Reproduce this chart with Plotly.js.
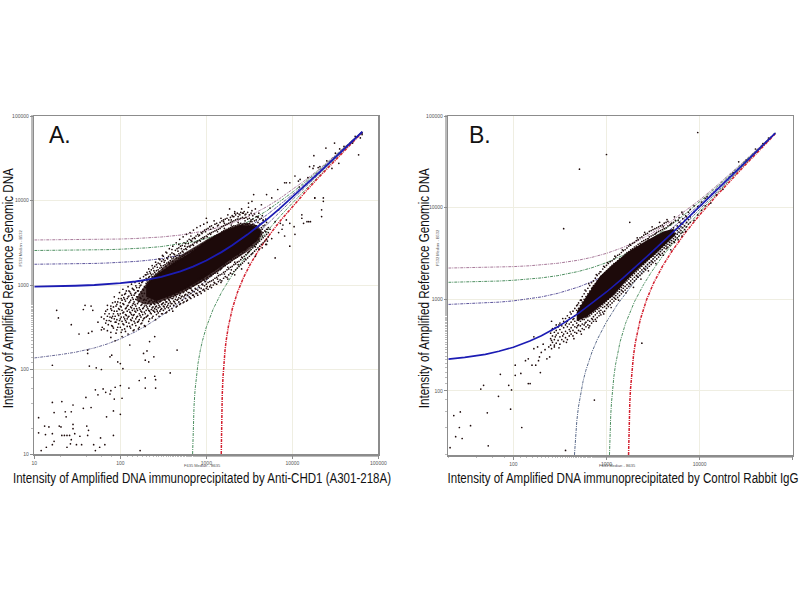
<!DOCTYPE html>
<html>
<head>
<meta charset="utf-8">
<script src="https://cdn.plot.ly/plotly-3.0.1.min.js"></script>
<style>html,body{margin:0;padding:0;background:#fff}</style>
</head>
<body>
<div id="chart" style="width:800px;height:600px"></div>
<script>
// Panel A curves (intensity values)
const aUpperX=[10,15,20,30,50,70,100,150,200,300,500,700,1000,1500,2000,3000,5000,7000,10000,15000,20000,30000,50000,65000];
const aMauve=[3410,3415,3420,3430,3450,3470,3500,3550,3600,3700,3900,4100,4400,4900,5400,6400,8400,10400,13400,18200,23000,32800,52500,65500];
const aGreenUp=[2560,2565,2570,2580,2600,2620,2650,2700,2750,2850,3050,3250,3550,4050,4550,5550,7500,9500,12500,17400,22300,32200,52000,65400];
const aPurpleUp=[1760,1765,1770,1780,1800,1820,1850,1900,1950,2050,2250,2450,2750,3250,3750,4750,6700,8700,11700,16700,21700,31700,51600,65300];
const aBlue=[955,960,970,980,1000,1020,1050,1100,1150,1250,1450,1650,1950,2450,2950,3950,5900,7900,10900,15900,20900,30900,51000,65100];
const aPurpleLow=[137,143,150,160,180,200,230,280,330,430,630,830,1130,1630,2130,3130,5130,7130,10100,15100,20100,30100,50100,65000];
const aGreenLowX=[692,695,700,710,720,740,760,800,850,900,1000,1200,1500,2000,3000,5000,7000,10000,15000,20000,30000,50000,65000];
const aGreenLowY=[10,13,18,28,38,58,78,118,168,218,318,518,818,1318,2318,4320,6320,9320,14320,19320,29320,49300,64800];
const aRedX=[1490,1495,1500,1510,1530,1560,1600,1650,1700,1800,2000,2300,2700,3200,4000,5000,7000,10000,15000,20000,30000,50000,65000];
const aRedY=[10,15,20,30,50,80,120,170,220,320,520,820,1220,1720,2520,3520,5520,8520,13520,18520,28520,48600,64000];
// Panel B curves
const bUpperX=[20,30,50,70,100,150,200,300,500,700,1000,1500,2000,3000,5000,7000,10000,15000,20000,30000,50000,65000];
const bMauve=[2190,2200,2220,2240,2270,2320,2370,2470,2670,2870,3170,3670,4170,5170,7150,9150,12100,17100,22000,32000,51800,65500];
const bGreenUp=[1530,1540,1560,1580,1610,1660,1710,1810,2010,2210,2510,3010,3510,4510,6500,8500,11500,16500,21500,31500,51400,65400];
const bPurpleUp=[878,890,910,930,960,1010,1060,1160,1360,1560,1860,2360,2860,3860,5850,7850,10800,15800,20800,30800,50800,65200];
const bBlue=[222,232,250,270,300,350,400,500,700,900,1200,1700,2200,3200,5200,7200,10200,15200,20200,30200,50200,65000];
const bPurpleLowX=[453,456,460,470,480,500,530,560,600,650,700,800,1000,1300,1700,2200,3000,5000,7000,10000,15000,20000,30000,50000,65000];
const bPurpleLowY=[20,23,27,37,47,67,97,127,167,217,267,367,567,867,1267,1770,2570,4570,6570,9570,14570,19570,29570,49600,64800];
const bGreenLowX=[1077,1080,1085,1095,1110,1130,1160,1200,1250,1300,1400,1600,2000,2500,3000,4000,5000,7000,10000,15000,20000,30000,50000,65000];
const bGreenLowY=[20,23,28,38,53,73,103,143,193,243,343,543,943,1443,1943,2950,3950,5950,8950,13950,18950,28950,48950,64500];
const bRedX=[1726,1730,1735,1745,1760,1780,1810,1850,1900,1950,2050,2300,2700,3200,4000,5000,7000,10000,15000,20000,30000,50000,65000];
const bRedY=[20,24,29,39,54,74,104,144,194,244,344,594,994,1494,2294,3300,5300,8300,13300,18300,28300,48300,64000];
// Saturated parts of each cloud, as outlines in log10(intensity)
const aCore=[[2.30,3.00],[2.42,3.12],[2.62,3.26],[2.81,3.38],[3.00,3.52],[3.20,3.64],[3.39,3.71],[3.55,3.70],[3.64,3.63],[3.59,3.52],[3.43,3.40],[3.28,3.30],[3.12,3.18],[2.97,3.08],[2.77,2.96],[2.58,2.87],[2.42,2.81],[2.30,2.86]];
const aHaze=[[2.22,2.90],[2.34,3.07],[2.58,3.28],[2.81,3.42],[3.04,3.56],[3.28,3.68],[3.47,3.74],[3.60,3.70],[3.66,3.62],[3.60,3.50],[3.47,3.39],[3.28,3.27],[3.08,3.12],[2.89,3.00],[2.66,2.88],[2.42,2.78],[2.28,2.77],[2.18,2.82]];
const bCore=[[2.68,2.86],[2.79,3.04],[2.93,3.25],[3.08,3.39],[3.25,3.53],[3.43,3.64],[3.61,3.74],[3.72,3.77],[3.74,3.70],[3.65,3.61],[3.51,3.48],[3.36,3.35],[3.22,3.21],[3.08,3.05],[2.93,2.92],[2.79,2.81],[2.68,2.76]];
// Individually visible spots in log10(intensity): [x, y]
const aSpots=[[1.08,1.04],[1.14,1.08],[1.21,1.11],[1.23,1.15],[1.05,1.25],[1.12,1.33],[1.17,1.32],[1.13,1.23],[1.21,1.24],[1.29,1.33],[1.31,1.32],[1.32,1.22],[1.35,1.22],[1.38,1.22],[1.41,1.22],[1.43,1.17],[1.38,1.08],[1.42,1.12],[1.49,1.11],[1.55,1.11],[1.47,1.24],[1.45,1.30],[1.45,1.35],[1.53,1.21],[1.61,1.33],[1.63,1.28],[1.62,1.22],[1.69,1.11],[1.71,1.04],[1.76,1.08],[1.82,1.11],[1.77,1.19],[1.92,1.22],[1.84,1.44],[1.92,1.51],[2.00,1.47],[1.66,1.55],[1.57,1.54],[1.45,1.58],[1.43,1.50],[1.36,1.50],[1.37,1.44],[1.23,1.49],[1.21,1.61],[1.05,1.43],[1.32,1.62],[1.60,1.67],[1.71,1.76],[1.74,1.70],[1.80,1.77],[1.83,1.73],[1.88,1.71],[1.89,1.75],[1.94,1.79],[2.00,1.81],[2.10,1.78],[1.93,1.65],[2.02,1.66],[2.29,1.90],[2.22,1.87],[2.29,1.78],[2.41,1.78],[2.40,1.92],[2.41,1.88],[2.03,2.01],[1.97,2.09],[2.00,2.07],[1.90,2.17],[1.88,2.15],[2.29,2.11],[2.33,2.09],[2.27,2.19],[2.31,2.22],[2.39,2.15],[2.11,2.29],[2.02,2.39],[1.89,2.38],[1.94,2.34],[2.34,2.33],[2.40,2.39],[1.21,2.05],[1.64,2.04],[1.72,2.02],[1.78,2.00],[1.62,2.19],[1.62,2.23],[1.52,2.42],[1.63,2.43],[1.67,2.45],[1.78,2.47],[1.26,2.70],[1.28,2.61],[1.43,2.53],[1.59,2.76],[1.57,2.71],[1.66,2.75],[1.68,2.70],[2.23,1.04],[2.66,2.23],[2.58,1.96],
[1.74,2.56],[1.78,2.62],[1.79,2.50],[1.82,2.66],[1.84,2.58],[1.85,2.71],[1.86,2.53],[1.88,2.62],[1.89,2.75],
[3.00,3.79],[3.20,3.77],[3.27,3.90],[3.31,3.81],[3.39,3.83],[3.49,3.97],[3.53,3.99],[3.55,4.07],[3.64,3.95],[3.70,4.07],[3.76,4.03],[3.83,4.13],[3.91,4.21],[3.97,4.21],[4.07,4.23],[4.26,4.03],[3.74,3.91],[3.84,3.89],[3.80,3.75],[3.89,3.71],[3.97,3.73],[4.02,3.69],[4.11,3.79],[4.17,3.75],[4.21,3.75],[4.13,3.73],[4.03,3.60],[3.97,3.46],[3.80,3.32],[3.76,3.55],[3.70,3.48],[3.84,3.62],[3.88,3.66],[3.91,3.58],[3.74,3.66],[3.86,3.73],[3.93,3.77],[3.66,3.77],[3.60,3.81],[3.51,3.75],[3.43,3.85],[3.33,3.85],
[4.49,4.68],[4.39,4.62],[4.25,4.53],[4.20,4.40],[4.25,4.41],[4.55,4.61],[4.54,4.44],[4.46,4.38],[4.77,4.54],[4.81,4.78],[4.26,4.03],[4.36,4.03],[4.36,3.99],[4.34,3.89],[4.34,3.81],[4.19,3.75],[4.11,3.83],[4.03,4.29],[3.93,4.21],[4.24,4.38],[4.32,4.40],[4.09,4.25],[4.70,4.68],[4.79,4.74],[4.81,4.80],[4.73,4.76],[4.60,4.64],[4.50,4.56],[4.40,4.47],[4.30,4.39],[4.18,4.27],[4.08,4.16]];
// Cloud fringe by column: [log10 x, log10 y, log10 y, ...]
const aFringe=[[1.90,2.52,2.61,2.70],[1.92,2.49,2.66,2.74],[1.94,2.56,2.63,2.80],[1.96,2.47,2.59,2.69,2.77],[1.98,2.54,2.64,2.72,2.84],[2.00,2.50,2.60,2.66,2.75,2.79],[2.02,2.47,2.57,2.70,2.82,2.88],[2.04,2.53,2.62,2.68,2.77,2.85],[2.06,2.45,2.58,2.65,2.72,2.81,2.90],[2.08,2.51,2.60,2.69,2.75,2.84],[2.10,2.55,2.63,2.71,2.79,2.87,2.93],[2.12,2.49,2.59,2.67,2.74,2.82,2.90],[2.14,2.53,2.61,2.70,2.76,2.85,2.96],[2.16,2.47,2.57,2.65,2.72,2.80,2.88,2.94],[2.18,2.52,2.60,2.68,2.75,2.83,2.91,2.99],[2.20,2.56,2.63,2.70,2.78,2.86,2.93],[2.22,2.50,2.59,2.66,2.73,2.81,2.89,2.97,3.02],[2.24,2.54,2.62,2.69,2.76,2.84,2.92,3.00],[2.26,2.58,2.65,2.72,2.79,2.87,2.95,3.04],[2.28,2.52,2.61,2.68,2.75,2.83,2.90,2.98,3.06],[2.30,2.62,2.70,2.76,2.82,3.02,3.08,3.12],[2.32,2.64,2.72,2.78,2.84,3.03,3.07,3.13],[2.34,2.60,2.69,2.75,2.81,3.05,3.10,3.16],[2.36,2.66,2.71,2.77,2.82,3.06,3.12,3.18],[2.38,2.63,2.70,2.74,2.80,3.08,3.13,3.20],[2.40,2.68,2.72,2.77,2.81,3.10,3.15,3.22],[2.42,2.65,2.71,2.75,2.80,3.11,3.17,3.24],[2.44,2.67,2.73,2.78,3.13,3.18,3.26],[2.46,2.69,2.74,2.80,3.14,3.20,3.25,3.30],[2.48,2.66,2.72,2.77,3.15,3.21,3.28],[2.50,2.70,2.75,2.79,3.17,3.23,3.30,3.34],[2.52,2.72,2.77,2.82,3.18,3.24,3.29],[2.54,2.68,2.74,2.80,3.20,3.26,3.32,3.38],[2.56,2.73,2.78,2.83,3.21,3.27,3.34],[2.58,2.75,2.80,2.85,3.23,3.29,3.36],[2.60,2.72,2.78,2.84,3.25,3.31,3.38,3.42],[2.62,2.76,2.81,2.86,3.26,3.32,3.37],[2.64,2.78,2.83,2.88,3.28,3.34,3.41],[2.66,2.75,2.82,2.89,3.29,3.35,3.43],[2.68,2.80,2.85,2.91,3.31,3.37,3.44,3.48],[2.70,2.78,2.84,2.90,3.32,3.38,3.46],[2.72,2.82,2.87,2.93,3.34,3.40,3.47],[2.74,2.80,2.86,2.92,3.35,3.42,3.50],[2.76,2.84,2.89,2.94,3.37,3.43,3.49],[2.78,2.82,2.88,2.95,3.38,3.45,3.52],[2.80,2.86,2.91,2.97,3.39,3.46,3.54],[2.82,2.84,2.90,2.96,3.40,3.47,3.53,3.58],[2.84,2.88,2.93,2.99,3.41,3.48,3.55],[2.86,2.86,2.92,3.00,3.43,3.50,3.56],[2.88,2.90,2.95,3.01,3.44,3.51,3.58],[2.90,2.88,2.94,3.02,3.45,3.52,3.60],[2.92,2.92,2.97,3.03,3.46,3.53,3.59],[2.94,2.90,2.96,3.04,3.48,3.55,3.62],[2.96,2.94,3.00,3.06,3.49,3.56,3.63],[2.98,2.93,2.99,3.05,3.50,3.57,3.65],[3.00,2.96,3.01,3.07,3.52,3.58,3.66],[3.02,2.95,3.03,3.08,3.53,3.60,3.67],[3.04,2.98,3.04,3.10,3.54,3.61,3.69],[3.06,2.97,3.05,3.11,3.55,3.62,3.70],[3.08,3.00,3.06,3.13,3.56,3.63,3.68],[3.10,3.02,3.08,3.14,3.58,3.64,3.72],[3.12,3.01,3.09,3.16,3.59,3.65,3.73],[3.14,3.04,3.11,3.17,3.60,3.66,3.71],[3.16,3.06,3.12,3.18,3.61,3.67,3.74],[3.18,3.05,3.13,3.20,3.63,3.69,3.76],[3.20,3.08,3.15,3.22,3.64,3.70,3.75],[3.22,3.10,3.16,3.23,3.65,3.71,3.78],[3.24,3.09,3.18,3.25,3.66,3.72,3.79],[3.26,3.12,3.19,3.26,3.67,3.73,3.77],[3.28,3.14,3.21,3.27,3.68,3.74,3.80],[3.30,3.13,3.22,3.29,3.69,3.75,3.82],[3.32,3.16,3.24,3.31,3.70,3.76,3.81],[3.34,3.18,3.25,3.32,3.70,3.77,3.83],[3.36,3.20,3.27,3.33,3.71,3.78,3.85],[3.38,3.22,3.28,3.35,3.72,3.78,3.84],[3.40,3.24,3.30,3.36,3.73,3.79,3.86],[3.42,3.26,3.32,3.38,3.72,3.80,3.85],[3.44,3.28,3.34,3.39,3.73,3.79,3.87],[3.46,3.30,3.36,3.42,3.72,3.80,3.84],[3.48,3.32,3.38,3.44,3.72,3.78,3.86],[3.50,3.34,3.40,3.46,3.73,3.79,3.83],[3.52,3.36,3.42,3.48,3.71,3.77,3.85],[3.54,3.38,3.44,3.50,3.72,3.78,3.82],[3.56,3.40,3.46,3.52,3.71,3.76,3.84],[3.58,3.42,3.48,3.54,3.70,3.77,3.81],[3.60,3.44,3.50,3.56,3.66,3.74,3.80],[3.62,3.46,3.52,3.58,3.65,3.72,3.78],[3.64,3.48,3.54,3.60,3.68,3.73,3.79],[3.66,3.50,3.56,3.62,3.70,3.76],[3.68,3.52,3.58,3.64,3.71],[3.70,3.54,3.60,3.66,3.74],[3.72,3.57,3.62,3.68]];
const aFringe2=[[1.81,2.48,2.60],[1.83,2.55,2.69],[1.85,2.46,2.63,2.76],[1.87,2.58,2.66],[1.89,2.44,2.57,2.72],[1.91,2.51,2.63,2.79],[1.93,2.60,2.69,2.86],[1.95,2.43,2.56,2.75],[1.97,2.50,2.66,2.80],[1.99,2.58,2.71,2.91],[2.01,2.44,2.62,2.74,2.84],[2.03,2.54,2.67,2.78,2.95],[2.05,2.48,2.60,2.83,2.89],[2.07,2.56,2.64,2.73,2.93],[2.09,2.42,2.62,2.76,2.86,2.98],[2.11,2.51,2.68,2.80,2.92],[2.13,2.58,2.65,2.73,2.88,3.01],[2.15,2.46,2.64,2.78,2.83,2.95],[2.17,2.55,2.69,2.77,2.90,3.03],[2.19,2.62,2.72,2.86,2.97],[2.21,2.48,2.57,2.80,2.93,3.05],[2.23,2.64,2.71,2.85,2.99,3.08],[2.25,2.55,2.68,2.77,2.90,3.03],[2.27,2.60,2.73,2.82,2.94,3.10],[2.29,2.51,2.66,2.79,2.97,3.12],[2.31,2.63,2.74,3.05,3.15],[2.33,2.57,2.70,2.80,3.09,3.19],[2.35,2.67,2.77,3.04,3.14],[2.37,2.61,2.73,3.10,3.23],[2.39,2.69,2.78,3.07,3.17],[2.41,2.59,2.74,3.13,3.27],[2.43,2.69,2.79,3.09,3.21],[2.45,2.63,2.76,3.16,3.31],[2.47,2.71,2.81,3.12,3.23],[2.49,2.66,2.78,3.19,3.35],[2.51,2.74,2.83,3.15,3.27],[2.53,2.67,2.80,3.22,3.39],[2.55,2.76,2.85,3.18,3.31],[2.57,2.70,2.82,3.25,3.43],[2.59,2.78,2.87,3.21,3.33],[2.61,2.69,2.84,3.28,3.46],[2.63,2.80,2.89,3.24,3.36],[2.65,2.74,2.86,3.32,3.50],[2.67,2.83,2.92,3.27,3.40],[2.69,2.77,2.88,3.35,3.54],[2.71,2.86,2.95,3.30,3.43],[2.73,2.79,2.91,3.39,3.57],[2.75,2.88,2.97,3.33,3.46],[2.77,2.81,2.93,3.42,3.60],[2.79,2.91,3.00,3.36,3.49],[2.81,2.85,2.96,3.45,3.62],[2.83,2.94,3.03,3.39,3.52],[2.85,2.88,2.99,3.47,3.65],[2.87,2.96,3.05,3.42,3.55],[2.89,2.90,3.02,3.50,3.68],[2.91,2.99,3.08,3.44,3.58],[2.93,2.92,3.04,3.52,3.70],[2.95,3.01,3.10,3.47,3.61],[2.97,2.95,3.07,3.55,3.72],[2.99,3.04,3.13,3.50,3.63],[3.01,2.98,3.09,3.57,3.74],[3.05,3.00,3.12,3.60,3.66],[3.09,3.03,3.17,3.57,3.76],[3.13,3.07,3.14,3.63,3.70],[3.17,3.03,3.19,3.60,3.79],[3.21,3.13,3.24,3.67,3.73],[3.25,3.07,3.21,3.64,3.83],[3.29,3.18,3.30,3.71,3.77],[3.33,3.12,3.27,3.68,3.87],[3.37,3.24,3.36,3.74,3.81],[3.41,3.19,3.33,3.70,3.90],[3.45,3.31,3.41,3.76,3.83],[3.49,3.26,3.39,3.70,3.92],[3.53,3.37,3.47,3.75,3.88],[3.57,3.34,3.45,3.70,3.90],[3.61,3.42,3.54,3.70,3.85],[3.65,3.44,3.58,3.66,3.82],[3.69,3.48,3.63,3.78],[3.71,3.52,3.66]];
const bSpots=[[3.98,4.82],[3.00,4.58],[2.71,4.42],[2.54,3.77],[3.25,3.84],[3.38,2.52],[2.87,1.90],[2.56,1.35],[1.32,1.38],[1.36,1.73],[1.43,1.77],[1.42,1.60],[1.38,1.50],[1.45,1.48],[1.54,1.62],[1.72,1.76],[1.73,1.40],[1.65,2.02],[1.68,2.06],[1.84,1.94],[1.86,2.18],[1.97,1.80],[1.98,2.01],[1.95,2.06],[2.02,2.28],[2.02,2.17],[2.09,1.60],[2.08,2.19],[2.16,2.08],[2.18,2.08],[2.22,2.59],[2.13,2.33],[2.16,2.35],[2.20,2.28],[2.29,2.20],[2.24,2.28],[2.27,2.33],[2.22,2.46],[2.26,2.48],[2.30,2.42],[2.36,2.35],[2.39,2.37],[2.32,2.51],[2.38,2.48],[2.28,2.37],[2.34,2.45],[2.41,2.55],[2.44,2.50],[2.48,2.70],[2.41,2.76],[4.02,4.03],[4.08,4.12],[4.18,4.14],[4.12,4.05],[4.25,4.20],[4.36,4.38],[4.42,4.50],[4.50,4.52],[4.60,4.64],[4.68,4.70],[4.74,4.76],[4.80,4.80]];
const bFringe=[[2.40,2.50,2.57,2.63],[2.42,2.53,2.60,2.68],[2.44,2.48,2.56,2.64],[2.46,2.52,2.61,2.66,2.72],[2.48,2.55,2.63,2.70],[2.50,2.51,2.59,2.67,2.74],[2.52,2.56,2.64,2.71],[2.54,2.54,2.62,2.69,2.76],[2.56,2.58,2.65,2.72,2.79],[2.58,2.56,2.63,2.70,2.76,2.82],[2.60,2.60,2.67,2.73,2.80],[2.62,2.62,2.69,2.75,2.84],[2.64,2.60,2.66,2.72,2.78,2.87],[2.66,2.64,2.70,2.76,2.82,2.90],[2.68,2.63,2.69,2.74,2.88,2.93],[2.70,2.66,2.72,2.77,2.90,2.96],[2.72,2.65,2.71,2.76,2.93,2.99],[2.74,2.68,2.73,2.78,2.97,3.03],[2.76,2.67,2.72,2.78,3.00,3.06],[2.78,2.70,2.75,2.80,3.03,3.09],[2.80,2.72,2.77,2.81,3.06,3.12],[2.82,2.71,2.76,2.82,3.09,3.15],[2.84,2.74,2.79,2.84,3.12,3.18],[2.86,2.76,2.81,2.86,3.15,3.20],[2.88,2.78,2.83,2.87,3.17,3.23],[2.90,2.80,2.85,2.89,3.20,3.26],[2.92,2.82,2.87,2.90,3.22,3.28],[2.94,2.83,2.88,2.92,3.25,3.30],[2.96,2.86,2.91,2.94,3.27,3.33],[2.98,2.87,2.92,2.96,3.29,3.35],[3.00,2.90,2.94,2.98,3.31,3.37],[3.02,2.92,2.96,3.00,3.33,3.39],[3.04,2.94,2.98,3.02,3.35,3.41],[3.06,2.96,3.00,3.03,3.37,3.42],[3.08,2.98,3.02,3.05,3.39,3.44],[3.10,3.00,3.04,3.07,3.40,3.46],[3.12,3.02,3.06,3.09,3.42,3.48],[3.14,3.04,3.08,3.11,3.44,3.49],[3.16,3.06,3.10,3.13,3.45,3.51],[3.18,3.08,3.12,3.15,3.47,3.53],[3.20,3.10,3.14,3.18,3.49,3.54],[3.22,3.12,3.16,3.20,3.51,3.56],[3.24,3.14,3.18,3.22,3.52,3.58],[3.26,3.16,3.20,3.24,3.54,3.59],[3.28,3.18,3.22,3.26,3.55,3.61],[3.30,3.20,3.24,3.28,3.57,3.62],[3.32,3.22,3.26,3.30,3.58,3.64],[3.34,3.24,3.28,3.32,3.60,3.65],[3.36,3.26,3.30,3.34,3.61,3.67],[3.38,3.28,3.32,3.36,3.63,3.68],[3.40,3.30,3.34,3.38,3.64,3.70],[3.42,3.32,3.36,3.40,3.65,3.71],[3.44,3.34,3.38,3.42,3.66,3.72],[3.46,3.36,3.40,3.44,3.68,3.74],[3.48,3.38,3.42,3.46,3.69,3.75],[3.50,3.40,3.44,3.47,3.70,3.76],[3.52,3.42,3.46,3.49,3.71,3.77],[3.54,3.44,3.48,3.51,3.73,3.78],[3.56,3.46,3.50,3.53,3.74,3.79],[3.58,3.48,3.52,3.55,3.75,3.80],[3.60,3.50,3.54,3.57,3.76,3.81],[3.62,3.52,3.56,3.59,3.77,3.83],[3.64,3.55,3.58,3.61,3.78,3.84],[3.66,3.57,3.60,3.63,3.80,3.85],[3.68,3.59,3.62,3.66,3.72,3.81],[3.70,3.61,3.64,3.68,3.74,3.83],[3.72,3.63,3.66,3.70,3.78,3.84],[3.74,3.65,3.68,3.72,3.76,3.86],[3.76,3.67,3.71,3.75,3.80],[3.78,3.69,3.73,3.77,3.84,3.89],[3.80,3.72,3.75,3.79,3.83],[3.82,3.73,3.78,3.82,3.88,3.93],[3.84,3.76,3.80,3.86],[3.86,3.79,3.84,3.90],[3.88,3.82,3.87,3.95],[3.90,3.84,3.90,3.98],[3.94,3.86,3.95,4.02],[3.98,3.92,4.01],[4.02,3.97,4.06],[4.06,4.02,4.10]];
const bFringe2=[[2.41,2.46,2.66],[2.45,2.59,2.69],[2.49,2.47,2.72],[2.53,2.60,2.79],[2.57,2.53,2.74],[2.61,2.65,2.86],[2.65,2.57,2.79],[2.69,2.71,2.94],[2.73,2.62,2.99],[2.77,2.74,3.10],[2.81,2.69,3.17],[2.85,2.78,3.13],[2.89,2.76,3.27],[2.93,2.85,3.30],[2.97,2.84,3.36],[3.01,2.94,3.40],[3.05,2.91,3.33],[3.09,3.01,3.47],[3.13,2.99,3.41],[3.17,3.09,3.54],[3.21,3.07,3.48],[3.25,3.17,3.60],[3.29,3.13,3.54],[3.33,3.25,3.67],[3.37,3.22,3.60],[3.41,3.33,3.73],[3.45,3.31,3.66],[3.49,3.41,3.79],[3.53,3.39,3.72],[3.57,3.49,3.84],[3.61,3.48,3.79],[3.65,3.56,3.87],[3.69,3.54,3.82],[3.73,3.62,3.90],[3.77,3.65,3.86],[3.81,3.69,3.95],[3.85,3.74,3.91]];
const aXTicks=[10,100,1000,10000,100000];
const bXTicks=[100,1000,10000,100000];
const aYTicks=[10,100,1000,10000,100000];
const bYTicks=[100,1000,10000,100000];
const aTitleX='Intensity of Amplified DNA immunoprecipitated by Anti-CHD1 (A301-218A)';
const bTitleX='Intensity of Amplified DNA immunoprecipitated by Control Rabbit IgG';
const titleY='Intensity of Amplified Reference Genomic DNA';

const exp10=v=>Math.pow(10,v);
const closeX=p=>p.concat([p[0]]).map(q=>exp10(q[0]));
const closeY=p=>p.concat([p[0]]).map(q=>exp10(q[1]));
const pairs=(s,...fs)=>s.concat(fs.flat().flatMap(c=>c.slice(1).map(y=>[c[0],y])));
const MAUVE='#a87a9a',GREEN='#4f9062',PURPLE='#5d559c',BLUE='#1c1cb4',RED='#d3202f',DARK='#1d0a0a';
const DD='3px,1px,1px,1px';
const line=(x,y,c,w,ax,dash)=>({type:'scatter',mode:'lines',x,y,xaxis:ax[0],yaxis:ax[1],hoverinfo:'skip',
  line:{color:c,width:w,dash:dash||DD}});
const poly=(p,c,ax)=>({type:'scatter',mode:'lines',x:closeX(p),y:closeY(p),xaxis:ax[0],yaxis:ax[1],fill:'toself',fillcolor:c,line:{width:0},hoverinfo:'skip'});
const spots=(s,ax)=>({type:'scatter',mode:'markers',x:s.map(q=>exp10(q[0])),y:s.map(q=>exp10(q[1])),xaxis:ax[0],yaxis:ax[1],
  marker:{size:1.7,color:DARK,line:{width:0}},hoverinfo:'skip'});
const A=['x','y'],B=['x2','y2'];
const traces=[
 line(aUpperX,aMauve,MAUVE,1,A),line(aUpperX,aGreenUp,GREEN,1,A),line(aUpperX,aPurpleUp,PURPLE,1,A),
 line(aUpperX,aPurpleLow,'#6a6a96',1,A),line(aGreenLowX,aGreenLowY,GREEN,1,A),line(aRedX,aRedY,RED,1.5,A),
 poly(aHaze,'rgba(35,12,12,0.8)',A),poly(aCore,DARK,A),spots(pairs(aSpots,aFringe,aFringe2),A),
 line(aUpperX,aBlue,BLUE,1.8,A,'solid'),
 line(bUpperX,bMauve,MAUVE,1,B),line(bUpperX,bGreenUp,GREEN,1,B),line(bUpperX,bPurpleUp,PURPLE,1,B),
 line(bPurpleLowX,bPurpleLowY,'#5a6a8a',1,B),line(bGreenLowX,bGreenLowY,GREEN,1,B),line(bRedX,bRedY,RED,1.5,B),
 poly(bCore,DARK,B),spots(pairs(bSpots,bFringe,bFringe2),B),
 line(bUpperX,bBlue,BLUE,1.6,B,'solid')
];
const axisBase={type:'log',showline:true,mirror:true,linecolor:'#8c8c8c',linewidth:1.5,ticks:'outside',ticklen:3,tickcolor:'#8c8c8c',
  gridcolor:'#efeee2',gridwidth:1,zeroline:false,tickfont:{family:'Liberation Sans',size:5,color:'#555'},
  minor:{ticks:'outside',ticklen:1.5,tickcolor:'#bbbbbb',showgrid:false},tickmode:'array'};
const titleFont={family:'Liberation Sans',size:15.5,color:'#111'};
const axX=(dom,anchor,range,vals,txt)=>Object.assign({},axisBase,{domain:dom,anchor,range,tickvals:vals,ticktext:vals.map(String),
  title:{text:txt,font:titleFont,standoff:6}});
const axY=(dom,anchor,range,vals,txt)=>Object.assign({},axisBase,{domain:dom,anchor,range,tickvals:vals,ticktext:vals.map(String),
  title:{text:txt,font:titleFont,standoff:4}});
const tiny=(text,x,y,rot)=>({xref:'paper',yref:'paper',x:x/800,y:1-y/600,text,showarrow:false,textangle:rot||0,
  font:{family:'Liberation Sans',size:4,color:'#555'},xanchor:'center',yanchor:'middle'});
const big=(text,x,y)=>({xref:'paper',yref:'paper',x:x/800,y:1-y/600,text,showarrow:false,
  font:{family:'Liberation Sans',size:23,color:'#111'},xanchor:'left',yanchor:'middle'});
const layout={width:800,height:600,margin:{l:0,r:0,t:0,b:0},paper_bgcolor:'#fff',plot_bgcolor:'#fff',showlegend:false,
 xaxis:axX([34.3/800,378.4/800],'y',[1,5],aXTicks,aTitleX),
 yaxis:axY([146/600,484/600],'x',[1,5],aYTicks,titleY),
 xaxis2:axX([448.3/800,792.7/800],'y2',[1.301,5],bXTicks,bTitleX),
 yaxis2:axY([145/600,484/600],'x2',[1.3,5],bYTicks,titleY),
 annotations:[big('A.',47,135),big('B.',467,135),
  tiny('F635 Median - B635',203,466),tiny('F532 Median - B532',19.5,248,-90),
  tiny('F635 Median - B635',617,466),tiny('F532 Median - B532',437,248,-90)]
};
// The reference's titles are set in a condensed face: fit each title to its measured length,
// then nudge it so that the drawn box is centred where the reference has it.
function fit(sel,cx,cy,len,rot){
  const t=document.querySelector('#chart text.'+sel); if(!t) return;
  const place=(x,y)=>{t.setAttribute('x',x);t.setAttribute('y',y);
    if(rot) t.setAttribute('transform','rotate(-90,'+x+','+y+')'); else t.removeAttribute('transform');};
  t.setAttribute('text-anchor','middle');
  t.setAttribute('textLength',len);t.setAttribute('lengthAdjust','spacingAndGlyphs');
  place(cx,cy);
  const r=t.getBoundingClientRect();
  const dx=cx-(r.left+r.right)/2, dy=cy-(r.top+r.bottom)/2;
  place(cx+dx,cy+dy);
}
Plotly.newPlot('chart',traces,layout,{staticPlot:true,displayModeBar:false}).then(()=>{
  fit('xtitle',202,477,378,false);
  fit('x2title',623,477,351,false);
  fit('ytitle',8,288,240,true);
  fit('y2title',424,288,240,true);
});
</script>
</body>
</html>
